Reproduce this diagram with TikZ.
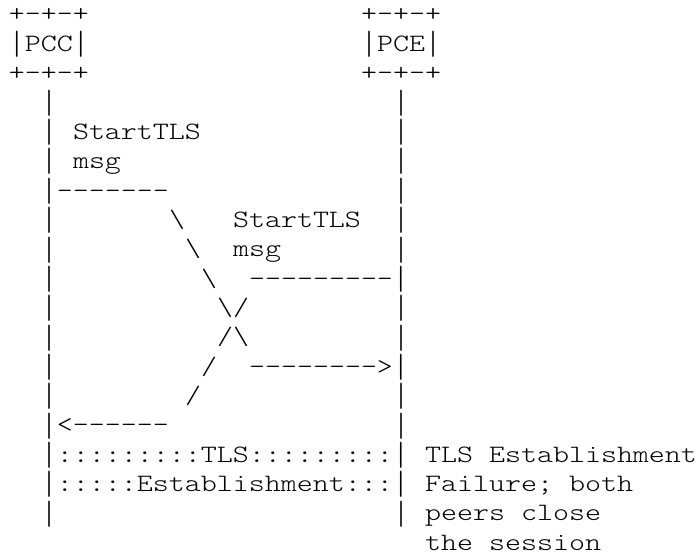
\documentclass[tikz,border=0pt]{standalone}
\usepackage{fontspec}
\newfontfamily\asciifont{lmmonolt10-regular}[Extension=.otf]
\newcommand\sx[1]{\scalebox{1.219}[1]{#1}}
\newcommand\hh{-\kern0pt}
\newcommand\bs{\textbackslash}
\newcommand\vb{\raisebox{-3.2pt}{\scalebox{1}[1.34]{|}}}
\tikzset{asc/.style={anchor=base west, inner sep=0pt, outer sep=0pt, font=\fontsize{25}{25}\selectfont\asciifont}}
\newcommand\frag[4]{\node[asc] (#1) at ({9+16*(#2)},{22+29.35*((#3)-1)}) {\sx{#4}};}
\begin{document}
\begin{tikzpicture}[x=1pt,y=-1pt]
\fill[white] (0,0) rectangle (698,559);
\useasboundingbox (0,0) rectangle (698,559);
% participants
\frag{pccTop}{0}{1}{+-+-+}
\frag{pceTop}{22}{1}{+-+-+}
\frag{pccBox}{0}{2}{\vb PCC\vb}
\frag{pceBox}{22}{2}{\vb PCE\vb}
\frag{pccBot}{0}{3}{+-+-+}
\frag{pceBot}{22}{3}{+-+-+}
% lifelines
\frag{l4}{2}{4}{\vb}   \frag{r4}{24}{4}{\vb}
\frag{l5}{2}{5}{\vb}   \frag{r5}{24}{5}{\vb}
\frag{l6}{2}{6}{\vb}   \frag{r6}{24}{6}{\vb}
\frag{r7}{24}{7}{\vb}
\frag{l8}{2}{8}{\vb}   \frag{r8}{24}{8}{\vb}
\frag{l9}{2}{9}{\vb}   \frag{r9}{24}{9}{\vb}
\frag{l10}{2}{10}{\vb}
\frag{l11}{2}{11}{\vb} \frag{r11}{24}{11}{\vb}
\frag{l12}{2}{12}{\vb} \frag{r12}{24}{12}{\vb}
\frag{l13}{2}{13}{\vb}
\frag{l14}{2}{14}{\vb} \frag{r14}{24}{14}{\vb}
\frag{r15}{24}{15}{\vb}
\frag{l18}{2}{18}{\vb} \frag{r18}{24}{18}{\vb}
% messages
\frag{m1a}{4}{5}{StartTLS}
\frag{m1b}{4}{6}{msg}
\frag{a1}{2}{7}{\vb\hh\hh\hh\hh\hh\hh\hh}
\frag{s1}{10}{8}{\bs}
\frag{s2}{11}{9}{\bs}
\frag{s3}{12}{10}{\bs}
\frag{m2a}{14}{8}{StartTLS}
\frag{m2b}{14}{9}{msg}
\frag{a2}{15}{10}{\hh\hh\hh\hh\hh\hh\hh\hh\hh\vb}
\frag{x1}{13}{11}{\bs/}
\frag{x2}{13}{12}{/\bs}
\frag{t1}{12}{13}{/}
\frag{a3}{15}{13}{\hh\hh\hh\hh\hh\hh\hh\hh>\vb}
\frag{t2}{11}{14}{/}
\frag{a4}{2}{15}{\vb<\hh\hh\hh\hh\hh\hh}
% TLS establishment
\frag{tls1}{2}{16}{\vb:::::::::TLS:::::::::\vb}
\frag{tls2}{2}{17}{\vb:::::Establishment:::\vb}
\frag{note1}{26}{16}{TLS Establishment}
\frag{note2}{26}{17}{Failure; both}
\frag{note3}{26}{18}{peers close}
\frag{note4}{26}{19}{the session}
\end{tikzpicture}
\end{document}
